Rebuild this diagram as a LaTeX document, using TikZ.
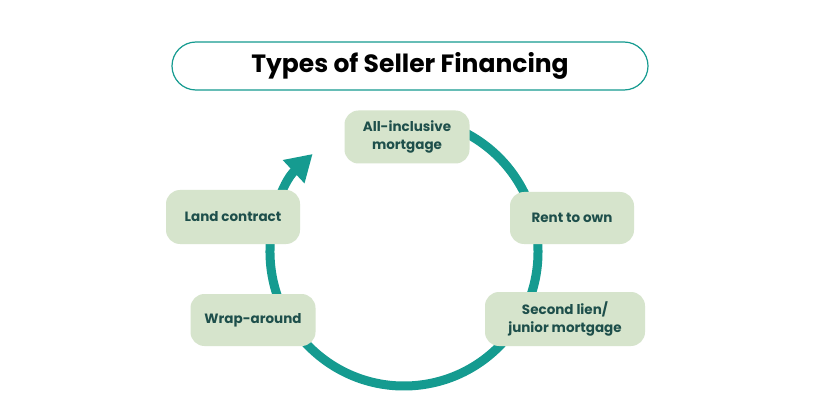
\documentclass[tikz,border=0pt]{standalone}
\usepackage{fontspec}
\setmainfont{Poppins}
\usetikzlibrary{arrows.meta}
\definecolor{teal1}{HTML}{159B90}
\definecolor{boxfill}{HTML}{D6E4CC}
\definecolor{boxtext}{HTML}{1E4F4B}
\tikzset{
  stepbox/.style={fill=boxfill, rounded corners=14pt, text=boxtext, font=\bfseries\fontsize{13.5}{18}\selectfont, align=center, inner sep=0pt},
}
\begin{document}
\begin{tikzpicture}[x=1pt,y=-1pt]
\useasboundingbox[fill=white] (0,0) rectangle (820,409);
\node[draw=teal1, line width=1.2pt, rounded corners=24pt, minimum width=476pt, minimum height=48pt, font=\bfseries\fontsize{25}{30}\selectfont] (title) at (410,66) {Types of Seller Financing};
\coordinate (c) at (404,252);
\draw[teal1, line width=9pt, -{Triangle[width=30pt,length=26pt]}] ([shift={(-95:134)}]c) arc[start angle=-95, end angle=227, radius=134];
\node[stepbox, minimum width=125pt, minimum height=53pt] (a) at (407,137) {All-inclusive\\mortgage};
\node[stepbox, minimum width=124pt, minimum height=52pt] (b) at (572,218) {Rent to own};
\node[stepbox, minimum width=160pt, minimum height=54pt] (s) at (565,319) {Second lien/\\junior mortgage};
\node[stepbox, minimum width=125pt, minimum height=52pt] (w) at (253,320) {Wrap-around};
\node[stepbox, minimum width=134pt, minimum height=54pt] (l) at (233,217) {Land contract};
\end{tikzpicture}
\end{document}
